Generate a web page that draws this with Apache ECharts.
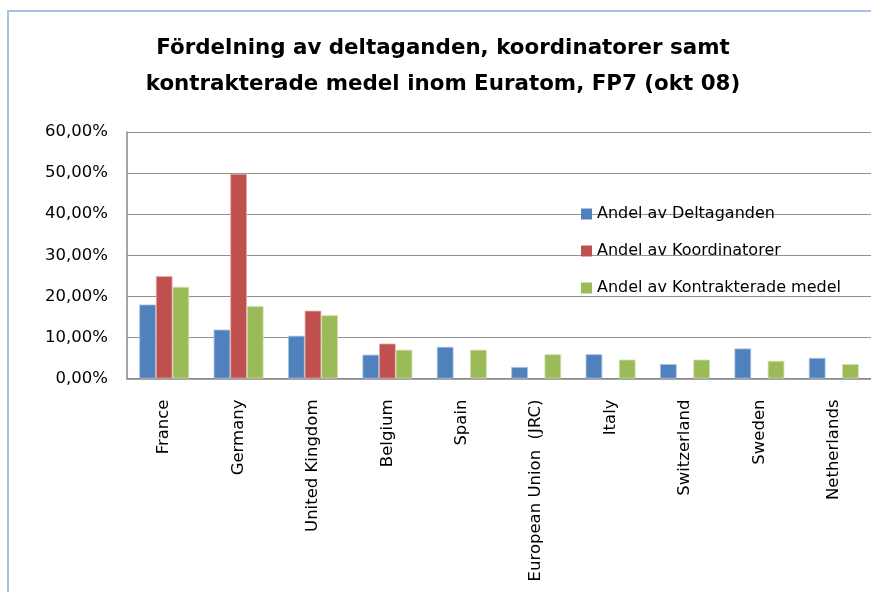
<!DOCTYPE html>
<html>
<head>
<meta charset="utf-8">
<script src="https://cdn.jsdelivr.net/npm/echarts@6/dist/echarts.min.js"></script>
<style>
html,body{margin:0;padding:0;background:#fff;}
#c{width:871px;height:592px;}
</style>
</head>
<body>
<div id="c"></div>
<script>
var titleText = "Fördelning av deltaganden, koordinatorer samt\nkontrakterade medel inom Euratom, FP7 (okt 08)";
var categories = ["France", "Germany", "United Kingdom", "Belgium", "Spain", "European Union  (JRC)", "Italy", "Switzerland", "Sweden", "Netherlands"];
var seriesNames = ["Andel av Deltaganden", "Andel av Koordinatorer", "Andel av Kontrakterade medel"];
var deltaganden = [0.180, 0.119, 0.104, 0.058, 0.077, 0.028, 0.059, 0.035, 0.073, 0.050];
var koordinatorer = [0.249, 0.498, 0.165, 0.085, null, null, null, null, null, null];
var kontrakterade = [0.223, 0.176, 0.154, 0.070, 0.070, 0.059, 0.046, 0.046, 0.043, 0.035];
var yTicks = [0, 0.1, 0.2, 0.3, 0.4, 0.5, 0.6];
var colors = ["#4F81BD", "#C0504D", "#9BBB59"];
var borders = ["#A7C0E0", "#E3A9A8", "#CFE0AE"];

var FONT = "DejaVu Sans";
function fmt(v){ return (v*100).toFixed(2).replace('.', ',') + '%'; }

var chart = echarts.init(document.getElementById('c'), null, {renderer:'canvas'});
var dataSets = [deltaganden, koordinatorer, kontrakterade];
var series = dataSets.map(function(d, i){
  return {
    name: seriesNames[i], type: 'bar', data: d,
    barGap: '0%', barCategoryGap: '33%',
    itemStyle: {color: colors[i], borderColor: borders[i], borderWidth: 0.8},
    emphasis: {disabled: true}
  };
});
chart.setOption({
  animation: false,
  graphic: [{
    type: 'polyline', silent: true,
    shape: {points: [[8, 592], [8, 11], [871, 11]]},
    style: {stroke: '#A9C0E6', lineWidth: 2, fill: null}
  }],
  title: {
    text: titleText, left: 438, top: 25, textAlign: 'center',
    textStyle: {fontFamily: FONT, fontWeight: 'bold', fontSize: 21.4, lineHeight: 36, color: '#000'}
  },
  legend: {
    orient: 'vertical', left: 581, top: 206, padding: 0, itemWidth: 11, itemHeight: 11, itemGap: 21,
    icon: 'rect',
    itemStyle: {borderWidth: 0},
    textStyle: {fontFamily: FONT, fontSize: 16, color: '#000'},
    data: seriesNames
  },
  grid: {left: 127, right: -1, top: 132, bottom: 213.5, containLabel: false},
  xAxis: {
    type: 'category', data: categories,
    axisLine: {show: true, lineStyle: {color: '#888', width: 1.5}},
    axisTick: {show: false},
    axisLabel: {rotate: 90, margin: 21, interval: 0, fontFamily: FONT, fontSize: 16.5, color: '#000'}
  },
  yAxis: {
    type: 'value', min: yTicks[0], max: yTicks[yTicks.length-1], interval: 0.1,
    axisLine: {show: true, lineStyle: {color: '#888', width: 1.5}},
    axisTick: {show: false},
    splitLine: {show: true, lineStyle: {color: '#919191', width: 1}},
    axisLabel: {formatter: fmt, margin: 19, fontFamily: FONT, fontSize: 16.5, color: '#000'}
  },
  series: series
});
</script>
</body>
</html>
